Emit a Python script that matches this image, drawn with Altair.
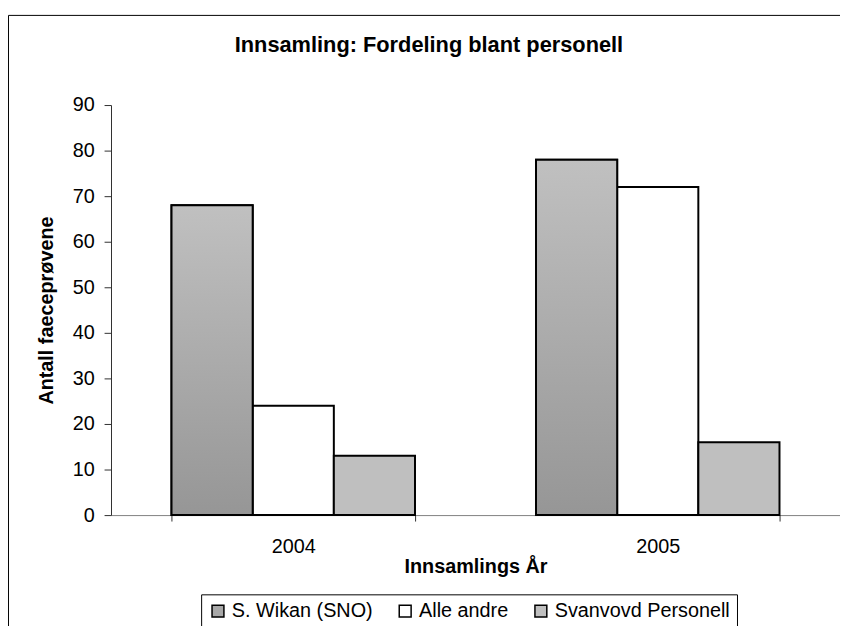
import altair as alt
import pandas as pd

years = ["2004", "2005"]
series = ["S. Wikan (SNO)", "Alle andre", "Svanvovd Personell"]
values_wikan = [68, 78]
values_andre = [24, 72]
values_svanvovd = [13, 16]
colors = ["#a8a8a8", "#ffffff", "#bfbfbf"]

rows = []
for i, y in enumerate(years):
    rows.append({"year": y, "series": series[0], "value": values_wikan[i]})
    rows.append({"year": y, "series": series[1], "value": values_andre[i]})
    rows.append({"year": y, "series": series[2], "value": values_svanvovd[i]})
df = pd.DataFrame(rows)

FONT = "Liberation Sans"

x_enc = alt.X("year:N", title="Innsamlings År",
              scale=alt.Scale(paddingInner=0.332, paddingOuter=0.166),
              axis=alt.Axis(labelAngle=0, tickBand="extent", labelFontSize=20,
                            titleFontSize=20, titleFontWeight="bold",
                            labelPadding=16, titlePadding=0, tickSize=6,
                            domainColor="#808080", tickColor="#303030",
                            labelColor="black", titleColor="black"))
xo_enc = alt.XOffset("series:N", sort=series,
                     scale=alt.Scale(domain=series, paddingInner=0, paddingOuter=0))
y_enc = alt.Y("value:Q", title="Antall faeceprøvene",
              scale=alt.Scale(domain=[0, 90]),
              axis=alt.Axis(values=list(range(0, 91, 10)), grid=False,
                            labelFontSize=20, titleFontSize=20, titleFontWeight="bold",
                            tickSize=7, labelPadding=10, titlePadding=16,
                            domainColor="#303030", tickColor="#303030",
                            labelColor="black", titleColor="black"))

bars = alt.Chart(df).mark_bar(stroke="black", strokeWidth=2).encode(
    x=x_enc, xOffset=xo_enc, y=y_enc,
    fill=alt.Fill("series:N", sort=series,
                  scale=alt.Scale(domain=series, range=colors),
                  legend=alt.Legend(title=None, orient="none", direction="horizontal",
                                    legendX=91, legendY=494,
                                    symbolType="square", symbolSize=144,
                                    symbolStrokeColor="black", symbolStrokeWidth=1.5,
                                    labelFontSize=20, labelColor="black", labelOffset=4,
                                    strokeColor="black", padding=7,
                                    columnPadding=22, labelLimit=400)),
)

grad = alt.LinearGradient(gradient="linear", x1=0, x2=0, y1=0, y2=1,
                          stops=[alt.GradientStop(offset=0, color="#c0c0c0"),
                                 alt.GradientStop(offset=1, color="#969696")])
grad_bars = alt.Chart(df).transform_filter(
    alt.datum.series == series[0]
).mark_bar(stroke="black", strokeWidth=2, fill=grad).encode(
    x=x_enc, xOffset=xo_enc, y=y_enc,
)

frame = alt.Chart(pd.DataFrame({"f": [0]})).mark_rect(
    fill="transparent", stroke="black", strokeWidth=1
).encode(x=alt.value(-103.5), x2=alt.value(800),
         y=alt.value(-90.5), y2=alt.value(600))

chart = alt.layer(frame, bars, grad_bars).properties(
    width=736, height=414,
    padding={"left": 104, "top": 95, "right": 0, "bottom": 109},
    autosize=alt.AutoSizeParams(type="none"),
    title=alt.Title("Innsamling: Fordeling blant personell", fontSize=22,
                    fontWeight="bold", font=FONT, color="black", offset=-42,
                    frame="group", anchor="middle", dx=-47),
).configure(font=FONT).configure_view(stroke=None)

chart.save("out.html", embed_options={"renderer": "svg", "actions": False})
